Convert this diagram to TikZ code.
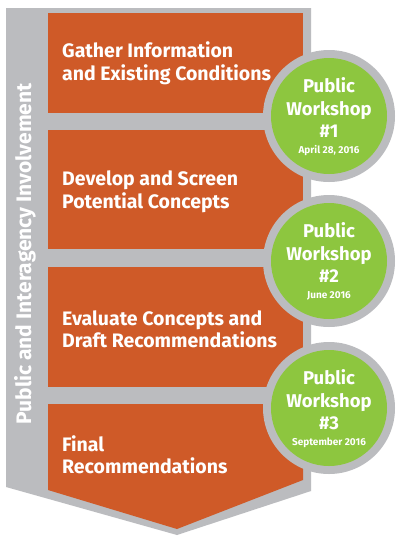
\documentclass[tikz,border=0pt]{standalone}
\usepackage{fontspec}
\setmainfont{Fira Sans}
\definecolor{orng}{HTML}{CF5A28}
\definecolor{grn}{HTML}{8DC63F}
\definecolor{gry}{HTML}{BBBCBF}
\tikzset{
  boxtxt/.style={text=white,font=\bfseries\fontsize{19.5}{22}\selectfont,anchor=base west,inner sep=0pt},
  wstxt/.style={text=white,font=\bfseries\fontsize{18.5}{22}\selectfont,anchor=base,inner sep=0pt},
  datetxt/.style={text=white,font=\bfseries\fontsize{10}{12}\selectfont,anchor=base,inner sep=0pt},
  ring/.style={circle,fill=gry,minimum size=132pt,inner sep=0pt},
  disc/.style={circle,fill=grn,minimum size=116pt,inner sep=0pt},
  stepbox/.style={fill=orng}
}
\begin{document}
\begin{tikzpicture}[x=1pt,y=-1pt]
\useasboundingbox[fill=white] (0,0) rectangle (396,539);
% gray band
\fill[gry] (6,8) -- (311,8) -- (311,491) -- (177,535) -- (6,487) -- cycle;
% orange steps
\fill[stepbox] (48,13) rectangle (303,113);
\fill[stepbox] (48,130) rectangle (303,249);
\fill[stepbox] (48,267) rectangle (303,387);
\fill[stepbox] (48,404) -- (303,404) -- (303,480) -- (177,529) -- (48,490) -- cycle;
% step texts
\node[boxtxt] (s1a) at (62,57) {Gather Information};
\node[boxtxt] (s1b) at (62,80) {and Existing Conditions};
\node[boxtxt] (s2a) at (62,185) {Develop and Screen};
\node[boxtxt] (s2b) at (62,208) {Potential Concepts};
\node[boxtxt] (s3a) at (62,325) {Evaluate Concepts and};
\node[boxtxt] (s3b) at (62,347) {Draft Recommendations};
\node[boxtxt] (s4a) at (62,451) {Final};
\node[boxtxt] (s4b) at (62,473) {Recommendations};
% side label
\node[text=white,font=\bfseries\fontsize{21}{24}\selectfont,rotate=90,anchor=base,inner sep=0pt] (side) at (31,254) {Public and Interagency Involvement};
% workshops
\foreach \c/\n/\d in {116/1/{April 28, 2016},261/2/{June 2016},408/3/{September 2016}}{
  \node[ring] (r\n) at (329,\c) {};
  \node[disc] (g\n) at (329,\c) {};
  \node[wstxt] (p\n) at (329,\c-24) {Public};
  \node[wstxt] (w\n) at (329,\c-1) {Workshop};
  \node[wstxt] (h\n) at (329,\c+21) {\#\n};
  \node[datetxt] (d\n) at (329,\c+37) {\d};
}
\end{tikzpicture}
\end{document}
